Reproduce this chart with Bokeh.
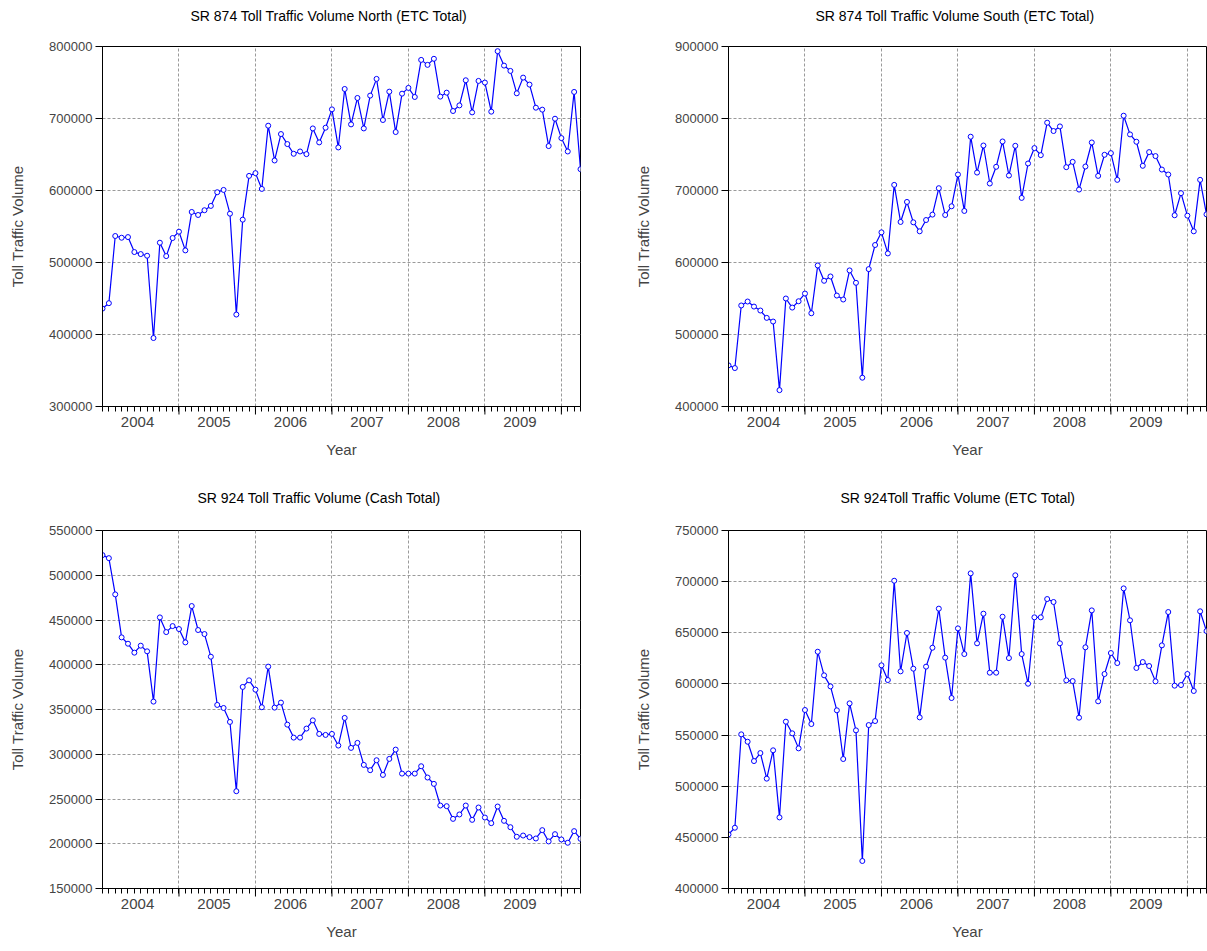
from bokeh.plotting import figure
from bokeh.layouts import column, row
from bokeh.models import FixedTicker, Range1d, BasicTickFormatter
from bokeh.core.properties import value
from bokeh.embed import file_html
from bokeh.resources import INLINE

# Monthly observations, Jan 2004 .. Apr 2010 (index 0..75)
months = list(range(76))
year_starts = [12, 24, 36, 48, 60, 72]
year_label_pos = [5.5, 17.5, 29.5, 41.5, 53.5, 65.5]
year_labels = ["2004", "2005", "2006", "2007", "2008", "2009"]

north_etc = [436000, 443500, 536800, 534400, 535300, 514500, 511700, 509400, 395100, 527500,
             508900, 534000, 542800, 516800, 570200, 566000, 572600, 578600, 597600, 600800,
             567800, 427700, 559500, 620300, 624100, 602200, 690000, 641700, 678400, 664500,
             651000, 654200, 650500, 686200, 666800, 687200, 712700, 659800, 741000, 691800,
             728500, 686200, 731800, 755000, 697900, 737300, 681200, 734500, 742500, 729900,
             781400, 774500, 782900, 730400, 735900, 710400, 718200, 753100, 708500, 752200,
             749900, 709500, 793500, 773500, 766100, 735000, 756800, 747100, 715000, 712300,
             661700, 699700, 672800, 654200, 736900, 629600]

south_etc = [457100, 453400, 540300, 545800, 538800, 533300, 523100, 518000, 422700, 550000,
             537400, 546200, 556900, 529500, 595900, 574600, 580600, 554100, 548600, 589000,
             571800, 440000, 590800, 624300, 641900, 612600, 707800, 656300, 684100, 655800,
             643300, 659000, 666500, 703200, 666000, 678100, 722200, 671600, 774700, 724900,
             762500, 709700, 732900, 768100, 720800, 762100, 689700, 737500, 758900, 749100,
             794200, 782600, 789000, 732400, 739800, 701300, 733300, 766700, 720300, 749600,
             751900, 714800, 803900, 777900, 767700, 734300, 753300, 747800, 729100, 722200,
             665600, 696300, 665100, 643300, 714800, 666900]

sr924_cash = [522500, 519100, 478600, 430600, 423500, 413500, 421300, 415000, 358800, 452900,
              436500, 443200, 439900, 425000, 465600, 438800, 434300, 409000, 355100, 351700,
              336100, 258700, 375200, 382600, 372200, 352500, 397900, 352100, 357700, 333100,
              318600, 318600, 328700, 337900, 322700, 321600, 322700, 309700, 340600, 307100,
              312700, 288100, 282200, 293300, 276900, 294800, 305200, 278400, 278400, 278400,
              286600, 274000, 266900, 242700, 242000, 227800, 232700, 242700, 226700, 240500,
              229300, 223000, 241600, 225600, 218500, 207800, 209200, 207400, 205900, 215200,
              202600, 210700, 204800, 201100, 214100, 205500]

sr924_etc = [452900, 459400, 550700, 543500, 524600, 532400, 507400, 535100, 469500, 563100,
             551700, 537000, 574500, 560800, 631500, 608400, 597600, 574200, 526600, 581000,
             554600, 426900, 559800, 563700, 618200, 603800, 700900, 612300, 649800, 614900,
             567300, 616900, 635400, 673600, 625700, 586200, 654300, 629200, 708100, 639700,
             668700, 611000, 611000, 665700, 625300, 706200, 629200, 600200, 665100, 665100,
             683000, 680100, 639700, 603500, 602800, 567000, 635800, 671900, 583000, 609700,
             630200, 620400, 693400, 662200, 615600, 621400, 617500, 602500, 637700, 670300,
             598300, 598900, 609700, 593100, 671000, 651700]

FONT = "Liberation Sans"


def panel(title, values, y_lo, y_hi, y_step, frame_h, b_left, b_right, b_top, b_bottom,
          t_off, t_up):
    p = figure(frame_width=478, frame_height=frame_h,
               min_border_left=b_left, min_border_right=b_right,
               min_border_top=b_top, min_border_bottom=b_bottom,
               x_range=Range1d(0, 75), y_range=Range1d(y_lo, y_hi),
               output_backend="svg", toolbar_location=None)
    p.outline_line_color = "black"
    p.outline_line_alpha = 1
    p.outline_line_width = 1
    p.background_fill_color = "white"
    p.border_fill_color = "white"

    # chart title, floated above the frame (overlay level is not clipped to the frame)
    p.text(x=[0], y=[y_hi], text=[title], x_offset=t_off, y_offset=-t_up,
           text_align="left", text_baseline="middle", text_font=value(FONT),
           text_font_size="14px", text_color="black", level="overlay")

    xa = p.below[0]
    ya = p.left[0]

    yt = list(range(y_lo, y_hi + 1, y_step))
    ya.ticker = FixedTicker(ticks=yt)
    ya.formatter = BasicTickFormatter(use_scientific=False)
    ya.major_tick_out = 7
    ya.major_tick_in = 0
    ya.minor_tick_line_color = None
    ya.major_label_standoff = 3
    ya.major_label_text_font = FONT
    ya.major_label_text_font_size = "13px"
    ya.axis_label = "Toll Traffic Volume"
    ya.axis_label_text_font = FONT
    ya.axis_label_text_font_size = "15px"
    ya.axis_label_text_font_style = "normal"
    ya.axis_label_standoff = 20
    ya.axis_line_color = "black"

    xa.ticker = FixedTicker(ticks=year_label_pos, minor_ticks=months)
    xa.major_label_overrides = {pos: lab_ for pos, lab_ in zip(year_label_pos, year_labels)}
    xa.major_tick_line_color = None
    xa.major_tick_out = 8
    xa.major_tick_in = 0
    xa.minor_tick_out = 5
    xa.minor_tick_in = 0
    xa.minor_tick_line_color = "black"
    xa.major_label_standoff = 2
    xa.major_label_text_font = FONT
    xa.major_label_text_font_size = "15px"
    xa.axis_label = "Year"
    xa.axis_label_text_font = FONT
    xa.axis_label_text_font_size = "15px"
    xa.axis_label_text_font_style = "normal"
    xa.axis_label_standoff = 11
    xa.axis_line_color = "black"

    p.xgrid.ticker = FixedTicker(ticks=year_starts)
    p.ygrid.ticker = FixedTicker(ticks=yt[1:-1])
    for g in (p.xgrid, p.ygrid):
        g.grid_line_color = "#9a9a9a"
        g.grid_line_dash = "3 2"
        g.grid_line_width = 1

    # longer tick marks at the year boundaries (drawn just below the frame)
    tick_len = 8 * (y_hi - y_lo) / frame_h
    p.segment(x0=year_starts, y0=[y_lo] * len(year_starts), x1=year_starts,
              y1=[y_lo - tick_len] * len(year_starts), line_color="black", line_width=1,
              level="overlay")

    p.line(months, values, line_color="#0000ff", line_width=1.2)
    p.scatter(months, values, marker="circle", size=5, fill_color="white",
              line_color="#0000ff", line_width=1)
    return p


p1 = panel("SR 874 Toll Traffic Volume North (ETC Total)", north_etc, 300000, 800000, 100000,
           360, 102, 20, 46, 74, 88, 31)
p2 = panel("SR 874 Toll Traffic Volume South (ETC Total)", south_etc, 400000, 900000, 100000,
           360, 128, 1, 46, 74, 87, 31)
p3 = panel("SR 924 Toll Traffic Volume (Cash Total)", sr924_cash, 150000, 550000, 50000,
           358, 102, 20, 50, 63, 95, 33)
p4 = panel("SR 924Toll Traffic Volume (ETC Total)", sr924_etc, 400000, 750000, 50000,
           358, 128, 1, 50, 63, 112, 33)

layout = column(row(p1, p2), row(p3, p4))
open("out.html", "w").write(file_html(layout, INLINE))
